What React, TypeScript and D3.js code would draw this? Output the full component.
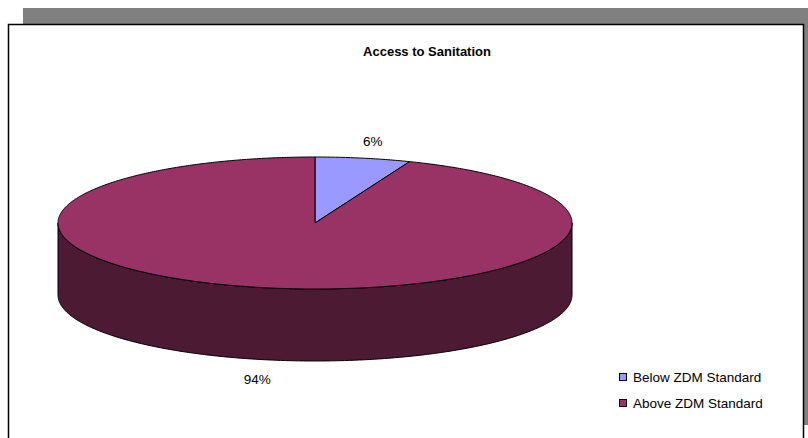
import React from "react";
import * as d3 from "d3";

const categories = ["Below ZDM Standard", "Above ZDM Standard"];
const values = [6, 94];
const labels = ["6%", "94%"];
const title = "Access to Sanitation";

const topColors = ["#9999FF", "#993366"];
const sideColors = ["#4D4D80", "#4C1A33"];

const W = 808;
const H = 438;
const cx = 315;
const cy = 223;
const rx = 257;
const ry = 66;
const depth = 72;

function pt(a: number, dy = 0): [number, number] {
  return [cx + rx * Math.sin(a), cy - ry * Math.cos(a) + dy];
}

function arcPts(a0: number, a1: number, dy = 0): [number, number][] {
  const n = Math.max(2, Math.ceil(Math.abs(a1 - a0) / 0.01));
  return d3.range(n + 1).map((i) => pt(a0 + ((a1 - a0) * i) / n, dy));
}

export default function App() {
  const pie = d3.pie<number>().sort(null).value((d) => d);
  const arcs = pie(values);
  const line = d3.line();

  const sides = arcs
    .map((a, i) => {
      const s = Math.max(a.startAngle, Math.PI / 2);
      const e = Math.min(a.endAngle, (3 * Math.PI) / 2);
      if (e <= s) return null;
      const topPts = arcPts(s, e);
      const botPts = arcPts(e, s, depth);
      return { i, d: line([...topPts, ...botPts])! + "Z" };
    })
    .filter(Boolean) as { i: number; d: string }[];

  const tops = arcs.map((a, i) => {
    const pts: [number, number][] = [[cx, cy], ...arcPts(a.startAngle, a.endAngle)];
    return { i, d: line(pts)! + "Z" };
  });

  const labelPos = arcs.map((a) => {
    const m = (a.startAngle + a.endAngle) / 2;
    const x = cx + rx * 1.2 * Math.sin(m);
    const c = Math.cos(m);
    const y = cy - ry * 1.25 * c + (c < 0 ? depth + 3 : 0);
    return [x, y];
  });

  return (
    <svg width={W} height={H} style={{ position: "absolute", left: 0, top: 0, fontFamily: "'Liberation Sans', Arial, sans-serif" }}>
      <rect x={0} y={0} width={W} height={H} fill="#ffffff" />
      <rect x={23} y={8} width={W - 23} height={17} fill="#808080" />
      <rect x={803} y={8} width={5} height={417} fill="#808080" />
      <rect x={8.5} y={24.5} width={795} height={440} fill="#ffffff" stroke="#000" strokeWidth={1.5} />
      <text x={427} y={56} textAnchor="middle" fontSize={13} fontWeight="bold" fill="#000">
        {title}
      </text>
      {sides.map((s) => (
        <path key={"s" + s.i} d={s.d} fill={sideColors[s.i]} stroke="#000" strokeWidth={1} strokeLinejoin="round" />
      ))}
      {tops.map((t) => (
        <path key={"t" + t.i} d={t.d} fill={topColors[t.i]} stroke="#000" strokeWidth={1} strokeLinejoin="round" />
      ))}
      {labels.map((l, i) => (
        <text key={"l" + i} x={labelPos[i][0]} y={labelPos[i][1]} textAnchor="middle" dominantBaseline="central" fontSize={13.5} fill="#000">
          {l}
        </text>
      ))}
      {categories.map((c, i) => (
        <g key={"g" + i} transform={`translate(619, ${373 + i * 26})`}>
          <rect x={0.5} y={0.5} width={7} height={7} fill={topColors[i]} stroke="#000" strokeWidth={1} />
          <text x={14} y={4} dominantBaseline="central" fontSize={13.5} fill="#000">
            {c}
          </text>
        </g>
      ))}
    </svg>
  );
}
